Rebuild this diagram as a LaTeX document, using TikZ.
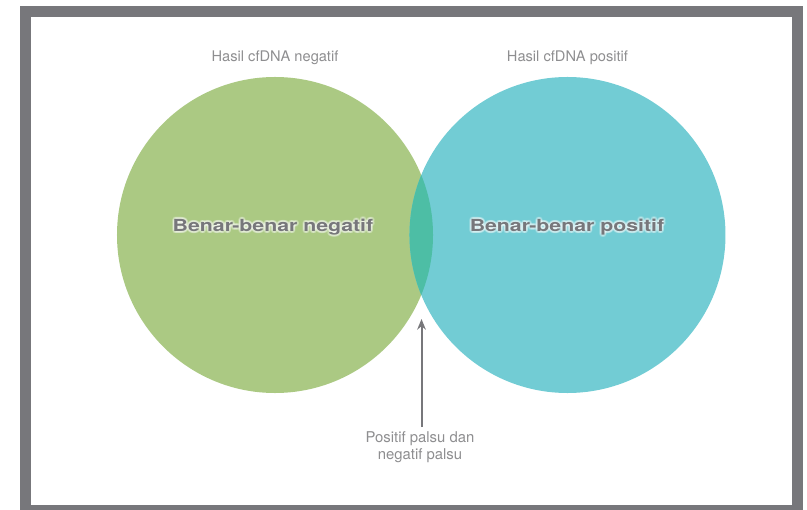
\documentclass[tikz,border=0pt]{standalone}
\usepackage{fontspec}
\setmainfont{TeX Gyre Heros}
\newfontfamily\widefont[FakeStretch=1.28]{TeX Gyre Heros}
\usepackage{tikz}
\usetikzlibrary{positioning, arrows.meta}

\definecolor{negfill}{HTML}{ABC983}
\definecolor{posfill}{HTML}{72CCD4}
\definecolor{bothfill}{HTML}{4DBEA5}
\definecolor{framegray}{HTML}{77777B}
\definecolor{textgray}{HTML}{8E8E90}

\begin{document}
\begin{tikzpicture}[x=0.03cm, y=-0.03cm,
    set/.style={circle, minimum size=9.48cm, inner sep=0pt},
    head/.style={inner sep=0pt, text=textgray, font=\fontsize{12.5}{15}\selectfont},
    big/.style={inner sep=0pt, font=\widefont\bfseries\fontsize{14.2}{17}\selectfont}]
    \useasboundingbox (0,0) rectangle (807,510);
    \draw[framegray, line width=9.4pt] (25.5,11.5) rectangle (797.5,510.5);

    % the two sets, touching by 24px
    \node[set, fill=negfill](neg) at (275,235){};
    \node[set, fill=posfill](pos)[right=-0.72cm of neg]{};
    \begin{scope}
        \clip (neg.center) circle (4.74cm);
        \fill[bothfill] (pos.center) circle (4.74cm);
    \end{scope}

    \node[head](neghead)[above=0.36cm of neg]{Hasil cfDNA negatif};
    \node[head](poshead)[above=0.36cm of pos]{Hasil cfDNA positif};

    % soft white halo behind the bold labels
    \foreach \a in {0,30,...,330} {
        \node[big, white, opacity=0.22] at ([shift={(\a:2)}]273,227) {Benar-benar negatif};
        \node[big, white, opacity=0.22] at ([shift={(\a:2)}]567,227) {Benar-benar positif};
    }
    \node[big, text=framegray](negtxt) at (273,227){Benar-benar negatif};
    \node[big, text=framegray](postxt) at (567,227){Benar-benar positif};

    \node[head, align=center, font=\fontsize{12.7}{14.5}\selectfont](fp) at (420,447)
        {Positif palsu dan\\negatif palsu};
    \coordinate (tip) at (421.5,319);
    \draw[framegray, line width=1.7pt, -{Stealth[length=3.2mm, width=2.6mm]}]
        (fp.north -| tip) ++(0,-4) -- (tip);
\end{tikzpicture}
\end{document}
